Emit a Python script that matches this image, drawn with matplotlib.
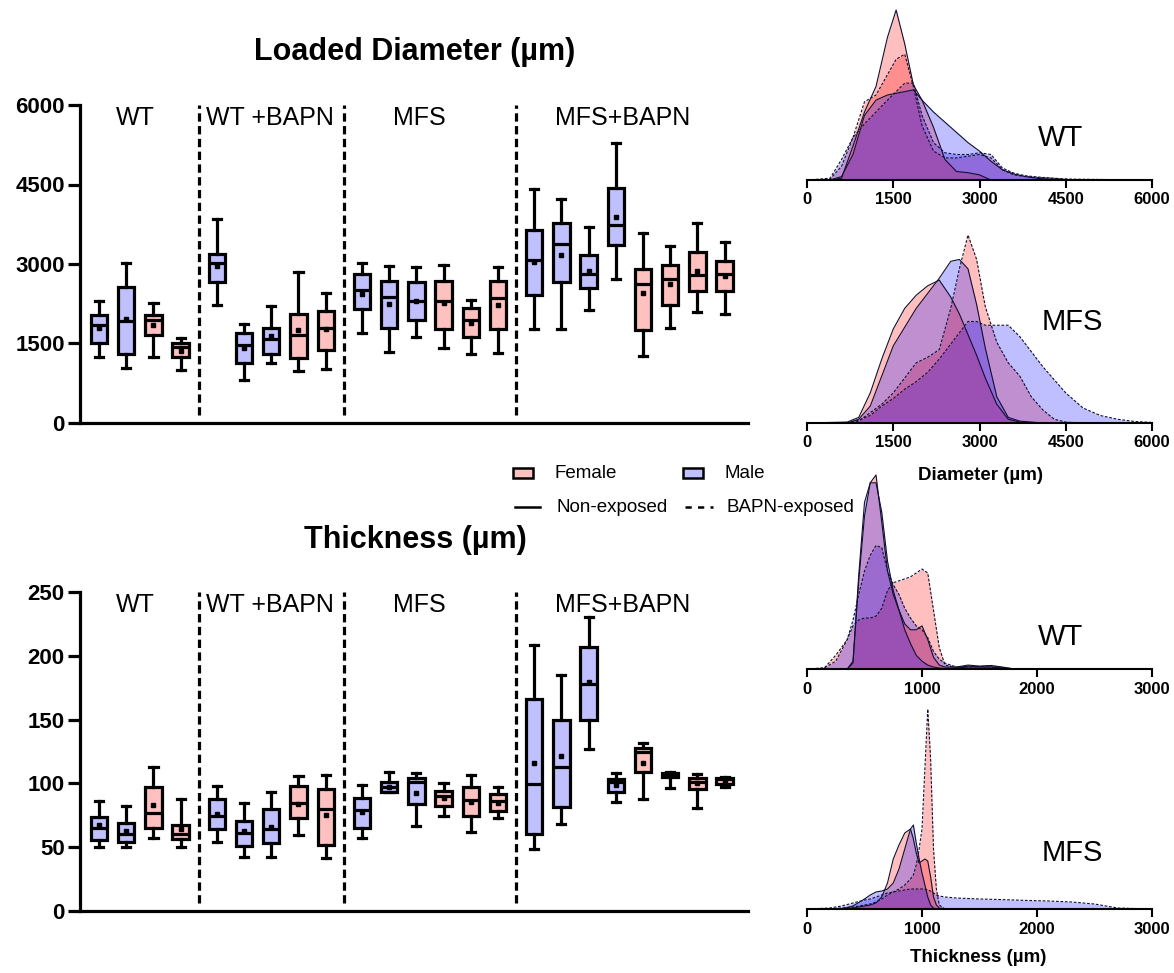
import matplotlib
matplotlib.use('Agg')
import matplotlib.pyplot as plt
from matplotlib.lines import Line2D
from matplotlib.patches import Rectangle

plt.rcParams['font.family'] = ['Liberation Sans', 'DejaVu Sans']

# ---------------- data ----------------
groups = ['WT', 'WT +BAPN', 'MFS', 'MFS+BAPN']
group_sizes = [4, 5, 6, 8]
box_sex = ['M', 'M', 'F', 'F',
           'M', 'M', 'M', 'F', 'F',
           'M', 'M', 'M', 'F', 'F', 'F',
           'M', 'M', 'M', 'M', 'F', 'F', 'F', 'F']

diam_whislo = [1247, 1039, 1247, 1007, 2235, 818, 1140, 976, 1026, 1700, 1341, 1624,
               1417, 1310, 1328, 1782, 1782, 2141, 2726, 1259, 1801, 2097, 2065]
diam_q1 = [1517, 1297, 1656, 1247, 2663, 1133, 1310, 1228, 1385, 2147, 1794, 1939,
           1782, 1624, 1782, 2411, 2651, 2550, 3356, 1763, 2222, 2487, 2493]
diam_med = [1845, 1920, 1950, 1435, 3010, 1480, 1593, 1668, 1801, 2506, 2380, 2304,
            2304, 1939, 2367, 3072, 3368, 2820, 3734, 2619, 2726, 2789, 2808]
diam_q3 = [2034, 2569, 2034, 1517, 3198, 1706, 1801, 2065, 2115, 2820, 2682, 2651,
           2676, 2172, 2682, 3639, 3765, 3179, 4439, 2902, 2978, 3217, 3054]
diam_whishi = [2304, 3022, 2267, 1605, 3841, 1876, 2204, 2852, 2455, 3022, 2959, 2934,
               2978, 2317, 2934, 4407, 4225, 3689, 5289, 3589, 3337, 3778, 3406]
diam_mean = [1800, 1970, 1850, 1360, 2965, 1423, 1637, 1763, 1782, 2443, 2254, 2298,
             2266, 1895, 2235, 3041, 3179, 2865, 3878, 2455, 2619, 2871, 2770]

thk_whislo = [50.4, 50.4, 56.9, 49.8, 54.3, 42.5, 42.5, 59.5, 41.2, 56.9, 92.9, 66.5,
              74.4, 62.1, 73.1, 48.3, 68.1, 126.6, 85.6, 87.4, 96.6, 80.4, 97.3]
thk_q1 = [55.6, 54.3, 64.7, 56.1, 64.2, 51.1, 53.0, 73.1, 51.7, 65.2, 92.9, 83.5,
          82.5, 74.4, 78.3, 60.3, 81.7, 149.5, 92.9, 109.1, 105.2, 96.0, 99.4]
thk_med = [64.7, 60.3, 76.5, 60.3, 74.6, 60.8, 63.9, 84.8, 79.6, 79.1, 97.3, 101.3,
           90.0, 86.9, 86.4, 99.2, 113.0, 178.2, 101.3, 124.7, 107.0, 101.3, 103.1]
thk_q3 = [73.9, 68.6, 96.8, 67.3, 87.7, 70.7, 79.6, 97.9, 95.5, 88.2, 101.3, 103.9,
          94.2, 97.3, 91.6, 166.5, 149.5, 206.9, 103.3, 127.9, 107.8, 103.9, 104.6]
thk_whishi = [86.1, 82.2, 112.5, 87.4, 97.9, 84.3, 93.4, 105.7, 106.5, 98.6, 108.6, 108.3,
              100.5, 106.5, 97.3, 208.8, 184.8, 230.4, 107.8, 131.3, 109.1, 107.3, 105.2]
thk_mean = [67.3, 62.9, 82.7, 63.9, 75.7, 62.9, 66.0, 83.5, 75.2, 77.2, 97.3, 92.1,
            88.2, 85.6, 84.8, 115.6, 121.3, 179.5, 98.6, 116.1, 106.0, 100.5, 102.0]

# density curves (relative height, % of panel max)
wtd_x = [0, 400, 600, 800, 1000, 1200, 1400, 1550, 1700, 1850, 2000, 2200, 2400, 2600,
         2800, 3000, 3200, 3400, 3600, 3800, 4000, 4300, 4600, 6000]
wtd_f_ne = [0, 0, 1, 20, 40, 55, 84, 100, 80, 56, 47, 31, 12, 5, 4.3, 3, 0, 0, 0, 0, 0, 0, 0, 0]
wtd_m_ne = [0, 0, 2, 15, 38, 47, 50, 51, 52, 53, 47, 40, 34, 28, 22, 17, 11, 6, 3.5, 2, 1, 0.3, 0, 0]
wtd_f_bapn = [0, 0.5, 8, 25, 46, 50, 62, 71, 74, 55, 32, 17, 13, 13, 14, 15, 13, 6, 3, 2, 1.5, 1, 0, 0]
wtd_m_bapn = [0, 1, 12, 25, 33, 40, 47, 52, 57, 57, 38, 22, 16, 15, 15, 16, 15, 7, 4, 2.5, 1.8, 1, 0.5, 0]

mfsd_x = [0, 700, 900, 1100, 1300, 1500, 1700, 1900, 2100, 2300, 2500, 2650, 2800, 2950,
          3100, 3300, 3500, 3700, 3900, 4100, 4300, 4500, 4800, 5100, 5400, 5700, 6000]
mfsd_f_ne = [0, 0.5, 3, 16, 34, 50, 61, 68, 73, 76, 67, 58, 47, 36, 24, 10, 2, 0.5, 0,
             0, 0, 0, 0, 0, 0, 0, 0]
mfsd_m_ne = [0, 0, 2, 9, 25, 41, 51, 61, 69, 77, 86, 87, 82, 63, 40, 14, 3, 1, 0.5,
             0, 0, 0, 0, 0, 0, 0, 0]
mfsd_f_bapn = [0, 0, 1, 5.5, 10, 16, 24, 32, 35, 39, 61, 82, 100, 87, 62, 43, 32, 25, 14,
               7, 2, 0.5, 0, 0, 0, 0, 0]
mfsd_m_bapn = [0, 0, 1.5, 4, 9, 13, 18, 22, 27, 34, 42, 48, 54, 54, 52, 52, 52, 46, 38,
               30, 23, 16, 8, 4, 2, 0.8, 0.3]

wtt_x = [0, 150, 250, 350, 400, 450, 500, 550, 600, 650, 700, 750, 800, 850, 900, 950,
         1000, 1050, 1100, 1150, 1200, 1300, 1400, 1500, 1600, 1700, 1800, 3000]
wtt_f_ne = [0, 0, 0, 0, 4, 45, 78, 95, 99, 75, 50, 38, 30, 23, 20, 20, 22, 15, 6, 2, 1,
            1, 2, 1.5, 1.8, 1, 0, 0]
wtt_m_ne = [0, 0, 0, 0, 3, 48, 85, 95, 95, 80, 55, 40, 30, 20, 13, 7, 4, 2, 1, 0.5, 0.3,
            0.5, 1, 1, 1, 0.5, 0, 0]
wtt_f_bapn = [0, 0.5, 7, 15, 22, 25, 26, 26, 27, 31, 40, 44, 45, 46, 47, 49, 51, 49, 30,
              11, 2, 0.8, 1.5, 1.2, 1.5, 0.8, 0, 0]
wtt_m_bapn = [0, 0.5, 4, 15, 25, 38, 50, 58, 63, 62, 50, 43, 38, 31, 26, 22, 20, 16, 9,
              5, 3, 1, 1.2, 1, 1, 0.5, 0, 0]

mfst_x = [0, 200, 300, 400, 500, 550, 600, 650, 700, 750, 800, 850, 900, 925, 950, 975,
          1000, 1025, 1050, 1075, 1100, 1125, 1150, 1200, 1300, 1500, 1700, 1900, 2100,
          2300, 2500, 2700, 3000]
mfst_f_ne = [0, 0, 0, 0.5, 1.5, 2, 3, 6, 13, 25, 32, 38, 40, 35, 28, 23, 24, 25, 24, 16,
             6, 2, 0.5, 0, 0, 0, 0, 0, 0, 0, 0, 0, 0]
mfst_m_ne = [0, 0, 0, 1.5, 5, 7, 8.5, 9, 10, 13, 20, 30, 40, 42, 33, 25, 18, 12, 6, 2,
             0.5, 0, 0, 0, 0, 0, 0, 0, 0, 0, 0, 0, 0]
mfst_f_bapn = [0, 0, 0.5, 1, 2, 2.5, 3.5, 5, 7, 8.5, 10, 12, 15, 17, 22, 30, 40, 70, 100,
               75, 30, 10, 2, 0, 0, 0, 0, 0, 0, 0, 0, 0, 0]
mfst_m_bapn = [0, 0.5, 1.5, 3, 4.5, 5, 6, 7, 8, 8.5, 9, 9.5, 10, 10, 10, 10, 10, 10, 9.5,
               9, 8, 7, 6.5, 6, 5.5, 5, 4.7, 4.3, 4, 3.5, 2.5, 0.5, 0]

# ---------------- styling ----------------
W, H = 1174, 973
fig = plt.figure(figsize=(W / 100, H / 100), dpi=100)
BLUE_BOX = '#C0C0FF'
PINK_BOX = '#FFC0C0'
LW = 2.3


def ax_px(l, t, r, b):
    return fig.add_axes([l / W, 1 - b / H, (r - l) / W, (b - t) / H])


# positions with gaps between groups
positions = []
seps = []
p = 0.0
for gi, n in enumerate(group_sizes):
    for i in range(n):
        positions.append(p)
        p += 1
    if gi < len(group_sizes) - 1:
        seps.append(p - 1 + 2 / 3)
    p += 1 / 3
group_centers = [1.32, 6.3, 11.76, 19.24]


def box_panel(ax, lo, q1, med, q3, hi, mean, ymax, yticks, label_y, sep_lo):
    stats = []
    for i in range(len(med)):
        stats.append(dict(whislo=lo[i], q1=q1[i], med=med[i], q3=q3[i],
                          whishi=hi[i], mean=mean[i], fliers=[]))
    bp = ax.bxp(stats, positions=positions, widths=0.6, patch_artist=True,
                showmeans=True, showfliers=False, capwidths=0.3,
                boxprops=dict(linewidth=LW, edgecolor='black'),
                whiskerprops=dict(linewidth=LW, color='black'),
                capprops=dict(linewidth=LW, color='black'),
                medianprops=dict(linewidth=LW, color='black'),
                meanprops=dict(marker='s', markerfacecolor='black',
                               markeredgecolor='black', markersize=2.4))
    for patch, s in zip(bp['boxes'], box_sex):
        patch.set_facecolor(BLUE_BOX if s == 'M' else PINK_BOX)
    for sx in seps:
        ax.vlines(sx, sep_lo, ymax, colors='black', linewidth=LW,
                  linestyles=(0, (2.6, 1.4)))
    for g, c in zip(groups, group_centers):
        ax.text(c, label_y, g, ha='center', va='center', fontsize=18)
    ax.set_xlim(-0.7, 23.86)
    ax.set_ylim(0, ymax)
    ax.set_yticks(yticks)
    ax.set_yticklabels([str(v) for v in yticks], fontsize=16, fontweight='bold')
    for s in ['top', 'right']:
        ax.spines[s].set_visible(False)
    for s in ['left', 'bottom']:
        ax.spines[s].set_linewidth(LW)
    ax.tick_params(axis='x', bottom=False, labelbottom=False)
    ax.tick_params(axis='y', direction='out', length=9, width=LW, pad=2)


ax1 = ax_px(80, 105, 748, 423)
box_panel(ax1, diam_whislo, diam_q1, diam_med, diam_q3, diam_whishi, diam_mean,
          6000, [0, 1500, 3000, 4500, 6000], 5750, 150)
ax2 = ax_px(80, 592, 748, 911)
box_panel(ax2, thk_whislo, thk_q1, thk_med, thk_q3, thk_whishi, thk_mean,
          250, [0, 50, 100, 150, 200, 250], 240, 6)

fig.text(415 / W, 1 - 52 / H, 'Loaded Diameter (µm)', ha='center', va='center',
         fontsize=22, fontweight='bold')
fig.text(415 / W, 1 - 540 / H, 'Thickness (µm)', ha='center', va='center',
         fontsize=22, fontweight='bold')

DASH = (0, (2.5, 1.5))


def dens_panel(ax, x, f_ne, m_ne, f_bapn, m_bapn, xmax, xticks):
    curves = [(f_bapn, 'red', DASH), (m_bapn, 'blue', DASH),
              (f_ne, 'red', '-'), (m_ne, 'blue', '-')]
    for y, c, ls in curves:
        ax.fill_between(x, y, 0, color=c, alpha=0.25, linewidth=0, clip_on=False)
    for y, c, ls in curves:
        ax.plot(x, y, color='#101030', lw=0.8, ls=ls, clip_on=False)
    ax.set_xlim(0, xmax)
    ax.set_ylim(0, 100)
    ax.set_xticks(xticks)
    ax.set_xticklabels([str(v) for v in xticks], fontsize=12, fontweight='bold')
    for s in ['top', 'right', 'left']:
        ax.spines[s].set_visible(False)
    ax.spines['bottom'].set_linewidth(1.5)
    ax.set_yticks([])
    ax.tick_params(axis='x', direction='out', length=6, width=1.5, pad=3)
    ax.patch.set_alpha(0)


d1 = ax_px(807, 10, 1152, 180)
dens_panel(d1, wtd_x, wtd_f_ne, wtd_m_ne, wtd_f_bapn, wtd_m_bapn, 6000,
           [0, 1500, 3000, 4500, 6000])
d2 = ax_px(807, 235, 1152, 423)
dens_panel(d2, mfsd_x, mfsd_f_ne, mfsd_m_ne, mfsd_f_bapn, mfsd_m_bapn, 6000,
           [0, 1500, 3000, 4500, 6000])
d3 = ax_px(807, 473, 1152, 669)
dens_panel(d3, wtt_x, wtt_f_ne, wtt_m_ne, wtt_f_bapn, wtt_m_bapn, 3000,
           [0, 1000, 2000, 3000])
d4 = ax_px(807, 709, 1152, 909)
dens_panel(d4, mfst_x, mfst_f_ne, mfst_m_ne, mfst_f_bapn, mfst_m_bapn, 3000,
           [0, 1000, 2000, 3000])

for txt, cx, cy in [('WT', 1061, 138), ('MFS', 1072, 322), ('WT', 1061, 637),
                    ('MFS', 1072, 853)]:
    fig.text(cx / W, 1 - cy / H, txt, ha='center', va='center', fontsize=21)
fig.text(980 / W, 1 - 475 / H, 'Diameter (µm)', ha='center', va='center',
         fontsize=13.5, fontweight='bold')
fig.text(978 / W, 1 - 957 / H, 'Thickness (µm)', ha='center', va='center',
         fontsize=13.5, fontweight='bold')

# legend drawn in pixel coordinates
lg = fig.add_axes([0, 0, 1, 1])
lg.set_xlim(0, W)
lg.set_ylim(H, 0)
lg.axis('off')
lg.patch.set_alpha(0)
lg.add_patch(Rectangle((513, 468), 20, 10, facecolor=PINK_BOX, edgecolor='black', lw=1.8))
lg.add_patch(Rectangle((683, 468), 20, 10, facecolor=BLUE_BOX, edgecolor='black', lw=1.8))
lg.add_line(Line2D([515, 540], [507, 507], color='black', lw=1.8))
lg.add_line(Line2D([685, 713], [507, 507], color='black', lw=1.8, ls=(0, (2.5, 2.5))))
for txt, x, y in [('Female', 555, 473), ('Male', 725, 473),
                  ('Non-exposed', 557, 507), ('BAPN-exposed', 727, 507)]:
    lg.text(x, y, txt, ha='left', va='center', fontsize=13.5)

fig.savefig('out.png', dpi=100)
